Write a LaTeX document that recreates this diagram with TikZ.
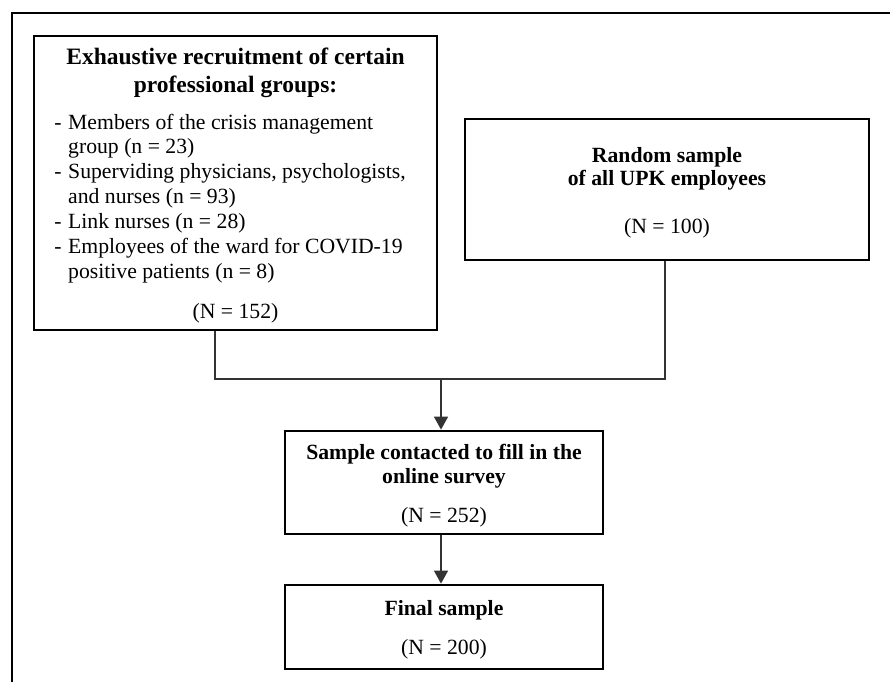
\documentclass[tikz,border=0pt]{standalone}
\usepackage{fontspec}
\setmainfont{Liberation Serif}
\usetikzlibrary{arrows.meta}
\tikzset{
  box/.style={draw=black, line width=2.8pt, inner sep=0pt},
  conn/.style={draw=black!80, line width=1.4pt},
  arr/.style={conn, -{Triangle[length=13pt,width=14pt]}},
  frame/.style={draw=black, line width=2.6pt},
  head/.style={font=\fontsize{23.5}{28}\selectfont\bfseries, anchor=base, inner sep=0pt},
  bhead/.style={font=\fontsize{21.7}{25}\selectfont\bfseries, anchor=base, inner sep=0pt},
  txt/.style={font=\fontsize{21.7}{25}\selectfont, anchor=base, inner sep=0pt},
  ltxt/.style={font=\fontsize{21.7}{25}\selectfont, anchor=base west, inner sep=0pt},
}
\begin{document}
\begin{tikzpicture}[x=1pt,y=-1pt]
\useasboundingbox (0,0) rectangle (890,682);
% outer frame
\draw[frame] (12,682) -- (12,13) -- (890,13);
% boxes
\node[box, minimum width=403pt, minimum height=294pt] (b1) at (235.5,183) {};
\node[box, minimum width=404pt, minimum height=141pt] (b2) at (667,189.5) {};
\node[box, minimum width=318pt, minimum height=103pt] (b3) at (444,482.5) {};
\node[box, minimum width=318pt, minimum height=84pt] (b4) at (444,627) {};
% box 1 text
\node[head] (h1) at (235.5,65) {Exhaustive recruitment of certain};
\node[head] (h2) at (235.5,93) {professional groups:};
\node[txt] (d1) at (58,129) {-};
\node[ltxt] (l1) at (68,129) {Members of the crisis management};
\node[ltxt] (l2) at (68,153) {group (n = 23)};
\node[txt] (d2) at (58,178) {-};
\node[ltxt] (l3) at (68,178) {Superviding physicians, psychologists,};
\node[ltxt] (l4) at (68,203) {and nurses (n = 93)};
\node[txt] (d3) at (58,228) {-};
\node[ltxt] (l5) at (68,228) {Link nurses (n = 28)};
\node[txt] (d4) at (58,253) {-};
\node[ltxt] (l6) at (68,253) {Employees of the ward for COVID-19};
\node[ltxt] (l7) at (68,278) {positive patients (n = 8)};
\node[txt] (n1) at (235.5,318) {(N = 152)};
% box 2 text
\node[bhead] (r1) at (667,162) {Random sample};
\node[bhead] (r2) at (667,185) {of all UPK employees};
\node[txt] (n2) at (667,233) {(N = 100)};
% box 3 text
\node[bhead] (s1) at (444,459) {Sample contacted to fill in the};
\node[bhead] (s2) at (444,483) {online survey};
\node[txt] (n3) at (444,522) {(N = 252)};
% box 4 text
\node[bhead] (f1) at (444,615) {Final sample};
\node[txt] (n4) at (444,654) {(N = 200)};
% connectors
\coordinate (j) at (441,379);
\coordinate (s1x) at (215,379);
\coordinate (s2x) at (665,379);
\draw[conn] (b1.south -| s1x) -- (s1x) -- (s2x) -- (b2.south -| s2x);
\draw[arr] (j) -- (b3.north -| j);
\draw[arr] (b3.south -| j) -- (b4.north -| j);
\end{tikzpicture}
\end{document}
